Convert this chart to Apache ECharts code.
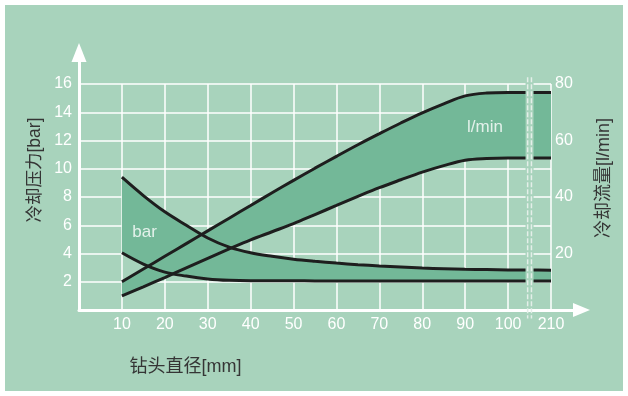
<!DOCTYPE html>
<html>
<head>
<meta charset="utf-8">
<script src="https://cdn.jsdelivr.net/npm/echarts@6/dist/echarts.min.js"></script>
<style>
html,body{margin:0;padding:0;background:#fff;}
#chart{width:628px;height:396px;}
</style>
</head>
<body>
<div id="chart"></div>
<script>
// ---- data ----
// drill diameter positions (axis units; 110 is the position labelled "210", after the break)
const xValues = [10, 15, 20, 25, 30, 35, 40, 45, 50, 55, 60, 65, 70, 75, 80, 85, 90, 95, 100, 105, 110];
// coolant pressure in bar (left axis)
const pressureHigh = [9.4, 8.1, 6.95, 6.0, 5.1, 4.45, 4.05, 3.8, 3.6, 3.45, 3.32, 3.21, 3.12, 3.04, 2.97, 2.92, 2.88, 2.86, 2.84, 2.83, 2.82];
const pressureLow  = [4.05, 3.25, 2.68, 2.4, 2.2, 2.1, 2.07, 2.07, 2.07, 2.06, 2.06, 2.06, 2.06, 2.06, 2.06, 2.05, 2.05, 2.05, 2.05, 2.05, 2.05];
// coolant flow in l/min (right axis)
const flowHigh = [10, 14.5, 19, 23.5, 28, 32.5, 37, 41.5, 45.9, 50.2, 54.4, 58.5, 62.4, 66.2, 69.8, 73, 75.8, 76.8, 77, 77, 77];
const flowLow  = [5, 8.2, 11.5, 14.9, 18.3, 21.6, 24.8, 27.7, 30.6, 33.8, 37, 40.2, 43.3, 46.1, 48.8, 51.1, 53, 53.6, 53.8, 53.8, 53.8];
// tick labels
const xTickValues = [10, 20, 30, 40, 50, 60, 70, 80, 90, 100, 110];
const xTickLabels = ['10', '20', '30', '40', '50', '60', '70', '80', '90', '100', '210'];
const leftTicks = [2, 4, 6, 8, 10, 12, 14, 16];
const rightTicks = [20, 40, 60, 80];
const breakAt = 105;

const BG = '#a8d3bc';
const FILL = '#73b898';
const LINE = '#1e1e1e';
const FONT = "'Liberation Sans', 'Noto Sans CJK SC', sans-serif";

// hidden category axis (step 5 from 0) used so the bands can be stacked
const catValues = [0, 5].concat(xValues);
const pad = ys => ['-', '-'].concat(ys);
const diff = (a, b) => pad(a.map((v, i) => +(v - b[i]).toFixed(3)));

const chart = echarts.init(document.getElementById('chart'));
const smooth = 0.35;
const curve = (name, ys, yIdx) => ({
  name, type: 'line', xAxisIndex: 2, yAxisIndex: yIdx, data: pad(ys), smooth,
  symbol: 'none', z: 4, lineStyle: { color: LINE, width: 3 }, silent: true
});
const bandBase = (stack, ys, yIdx) => ({
  type: 'line', stack, xAxisIndex: 2, yAxisIndex: yIdx, data: pad(ys), smooth,
  symbol: 'none', z: 1, lineStyle: { opacity: 0, width: 0 }, silent: true
});
const bandTop = (stack, hi, lo, yIdx) => ({
  type: 'line', stack, xAxisIndex: 2, yAxisIndex: yIdx, data: diff(hi, lo), smooth,
  symbol: 'none', z: 1, lineStyle: { opacity: 0, width: 0 },
  areaStyle: { color: FILL, opacity: 1 }, silent: true
});

const option = {
  backgroundColor: '#ffffff',
  animation: false,
  graphic: [
    { type: 'rect', z: -10, silent: true, shape: { x: 5, y: 5, width: 618, height: 386 }, style: { fill: BG } },
    { type: 'text', x: 35, y: 170, rotation: Math.PI / 2, silent: true,
      style: { text: '冷却压力[bar]', fill: '#353535', font: '17.5px ' + FONT, textAlign: 'center', textVerticalAlign: 'middle' } },
    { type: 'text', x: 604, y: 178, rotation: Math.PI / 2, silent: true,
      style: { text: '冷却流量[l/min]', fill: '#353535', font: '18px ' + FONT, textAlign: 'center', textVerticalAlign: 'middle' } },
    { type: 'text', x: 185.5, y: 367, silent: true,
      style: { text: '钻头直径[mm]', fill: '#353535', font: '18px ' + FONT, textAlign: 'center', textVerticalAlign: 'middle' } }
  ],
  grid: [
    { left: 79, right: 77, top: 84, bottom: 86 },
    { left: 79, right: 46.5, top: 52.5, bottom: 86 }
  ],
  xAxis: [
    { type: 'value', gridIndex: 0, min: 0, max: 110, interval: 10,
      axisLine: { show: false }, axisTick: { show: false },
      splitLine: { show: true, lineStyle: { color: '#ffffff', width: 1.5 } },
      axisLabel: { color: '#ffffff', fontSize: 16, fontFamily: FONT, margin: 7,
        formatter: v => { const i = xTickValues.indexOf(v); return i >= 0 ? xTickLabels[i] : ''; } } },
    { type: 'value', gridIndex: 1, min: 0, max: 1,
      axisLine: { show: true, onZero: false, lineStyle: { color: '#ffffff', width: 3 }, symbol: ['none', 'triangle'], symbolSize: [14, 17] },
      axisTick: { show: false }, axisLabel: { show: false }, splitLine: { show: false } },
    { type: 'category', gridIndex: 0, data: catValues.map(String), boundaryGap: false, show: false }
  ],
  yAxis: [
    { type: 'value', gridIndex: 0, min: 0, max: 16, interval: 2, position: 'left',
      axisLine: { show: false }, axisTick: { show: false },
      splitLine: { show: true, lineStyle: { color: '#ffffff', width: 1.5 } },
      axisLabel: { color: '#ffffff', fontSize: 16, fontFamily: FONT, margin: 7,
        formatter: v => leftTicks.indexOf(v) >= 0 ? String(v) : '' } },
    { type: 'value', gridIndex: 0, min: 0, max: 80, interval: 20, position: 'right',
      axisLine: { show: false }, axisTick: { show: false }, splitLine: { show: false },
      axisLabel: { color: '#ffffff', fontSize: 16, fontFamily: FONT, margin: 4,
        formatter: v => rightTicks.indexOf(v) >= 0 ? String(v) : '' } },
    { type: 'value', gridIndex: 1, min: 0, max: 1, position: 'left',
      axisLine: { show: true, onZero: false, lineStyle: { color: '#ffffff', width: 3 }, symbol: ['none', 'triangle'], symbolSize: [15, 19] },
      axisTick: { show: false }, axisLabel: { show: false }, splitLine: { show: false } }
  ],
  series: [
    bandBase('p', pressureLow, 0),
    bandTop('p', pressureHigh, pressureLow, 0),
    bandBase('f', flowLow, 1),
    bandTop('f', flowHigh, flowLow, 1),
    curve('pressureHigh', pressureHigh, 0),
    curve('pressureLow', pressureLow, 0),
    curve('flowHigh', flowHigh, 1),
    curve('flowLow', flowLow, 1),
    { type: 'scatter', xAxisIndex: 0, yAxisIndex: 0, z: 6, silent: true, symbolSize: 0,
      data: [[15.3, 5.5, 'bar'], [94.6, 12.94, 'l/min']],
      label: { show: true, position: 'inside', color: '#ffffff', fontSize: 17, fontFamily: FONT,
        formatter: p => p.data[2] } },
    { type: 'custom', xAxisIndex: 0, yAxisIndex: 0, z: 10, silent: true, clip: false,
      data: [[breakAt]],
      renderItem: (params, api) => {
        const x = api.coord([api.value(0), 0])[0];
        const yTop = api.coord([0, 16.4])[1];
        const yFillBot = api.coord([0, 0.12])[1];
        const yBot = api.coord([0, -0.6])[1];
        const dash = { stroke: '#e4efe9', lineWidth: 1.5, lineDash: [5, 2], fill: null };
        return { type: 'group', children: [
          { type: 'rect', shape: { x: x - 4, y: yTop, width: 8, height: yFillBot - yTop }, style: { fill: BG } },
          { type: 'line', shape: { x1: x - 1.9, y1: yTop - 1, x2: x - 1.9, y2: yBot }, style: dash },
          { type: 'line', shape: { x1: x + 1.9, y1: yTop - 1, x2: x + 1.9, y2: yBot }, style: dash }
        ] };
      } }
  ]
};
chart.setOption(option);
</script>
</body>
</html>
